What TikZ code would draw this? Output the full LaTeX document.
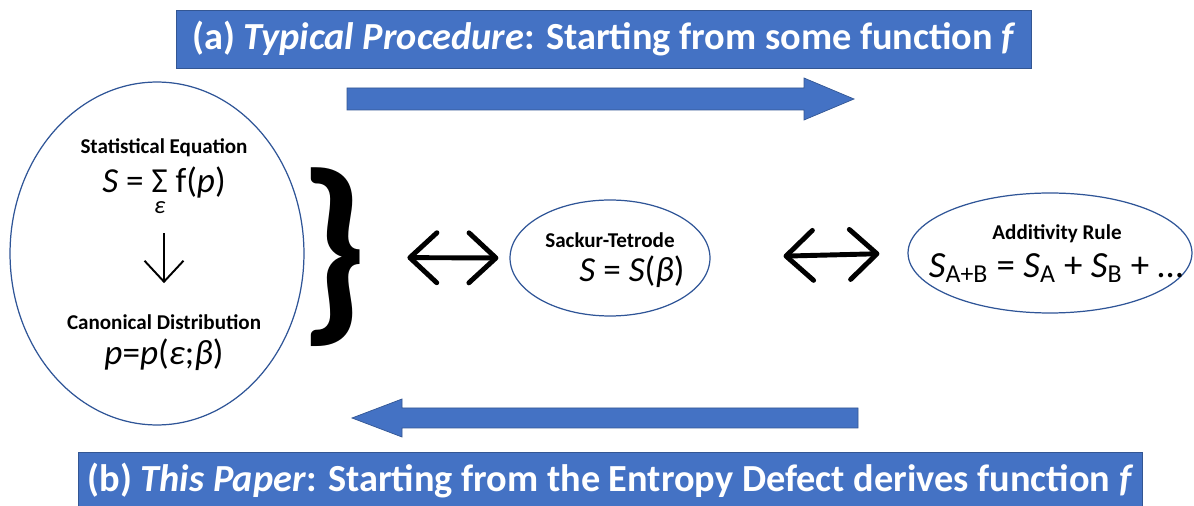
\documentclass[tikz,border=0pt]{standalone}
\usepackage{fontspec}
\setmainfont{Carlito}
\usepackage{amsmath}
\usetikzlibrary{positioning,shapes.geometric,arrows.meta,calc}
\definecolor{bannerblue}{HTML}{4472C4}
\definecolor{rimblue}{HTML}{2F5597}
\tikzset{
  banner/.style={fill=bannerblue, draw=bannerblue!75!black, line width=0.5pt, text=white,
    font=\fontsize{21.8}{24}\selectfont\bfseries, inner sep=0pt},
  oval/.style={ellipse, draw=rimblue, line width=0.7pt, inner sep=0pt},
  heading/.style={font=\fontsize{12}{14}\selectfont\bfseries, inner sep=0pt},
  formula/.style={font=\fontsize{20}{24}\selectfont, inner sep=0pt},
  blockarrow/.style={fill=bannerblue, draw=bannerblue!75!black, line width=0.4pt},
  biarrow/.style={line width=2.8pt, line cap=round,
    {Straight Barb[round,length=5.4mm,width=10mm]}-{Straight Barb[round,length=5.4mm,width=10mm]}},
  thinarrow/.style={line width=1.1pt, -{Straight Barb[length=4.2mm,width=7.8mm]}}
}
\begin{document}
\begin{tikzpicture}[x=0.02cm,y=-0.02cm]
    \useasboundingbox (0,0) rectangle (1194,506);
    % Banners
    \node[banner, minimum width=17.12cm, minimum height=1.16cm] (typical) at (604,39)
        {(a) \textit{Typical Procedure}: Starting from some function \textit{f}};
    \node[banner, minimum width=21.3cm, minimum height=1.16cm] (thispaper) at (610.5,481)
        {(b) \textit{This Paper}: Starting from the Entropy Defect derives function \textit{f}};

    % Block arrows
    \draw[blockarrow] (347,88) -- (804,88) -- (804,78) -- (854,99) -- (804,120)
        -- (804,110) -- (347,110) -- cycle;
    \draw[blockarrow] (858,408) -- (402,408) -- (402,399) -- (352,418) -- (402,437)
        -- (402,428) -- (858,428) -- cycle;

    % Left ellipse
    \node[oval, minimum width=5.88cm, minimum height=6.86cm] (statistical) at (157,253.5) {};
    \node[heading] (stathead) at (164,148) {Statistical Equation};
    \node[formula] (sumeq) at (164,192)
        {\textit{S} = $\mathop{\hbox{Σ}}\limits_{\hbox{\fontsize{14}{14}\selectfont\itshape ε}}$ f(\textit{p})};
    \node[heading] (canonhead) at (164,322) {Canonical Distribution};
    \node[formula] (canoneq) at (164,355) {\textit{p}=\textit{p}(\textit{ε};\textit{β})};
    \draw[thinarrow, shorten <=0.3cm, shorten >=0.62cm] (sumeq.south) -- (canonhead.north);

    % Brace
    \node[inner sep=0pt, font=\fontsize{116}{116}\selectfont\bfseries] (brace) at (334,257.5) {\}};

    % Middle ellipse
    \node[oval, minimum width=4cm, minimum height=2.32cm] (sackur) at (610,258) {};
    \node[heading] (sackurhead) at (610,240) {Sackur-Tetrode};
    \node[formula] (sackureq) at (632,272) {\textit{S} = \textit{S}(\textit{β})};

    % Right ellipse
    \node[oval, minimum width=5.68cm, minimum height=2.4cm] (additivity) at (1050,253) {};
    \node[heading] (addhead) at (1057,234) {Additivity Rule};
    \node[formula, font=\fontsize{21}{24}\selectfont] (addeq) at (1056,268)
        {\textit{S}\textsubscript{A+B} = \textit{S}\textsubscript{A} + \textit{S}\textsubscript{B} + \dots};

    % Equivalences
    \draw[biarrow, shorten <=0.76cm, shorten >=0.22cm] (brace.east) -- (sackur.west);
    \draw[biarrow, shorten <=1.46cm, shorten >=0.56cm] (sackur.east) -- (additivity.west);
\end{tikzpicture}
\end{document}
